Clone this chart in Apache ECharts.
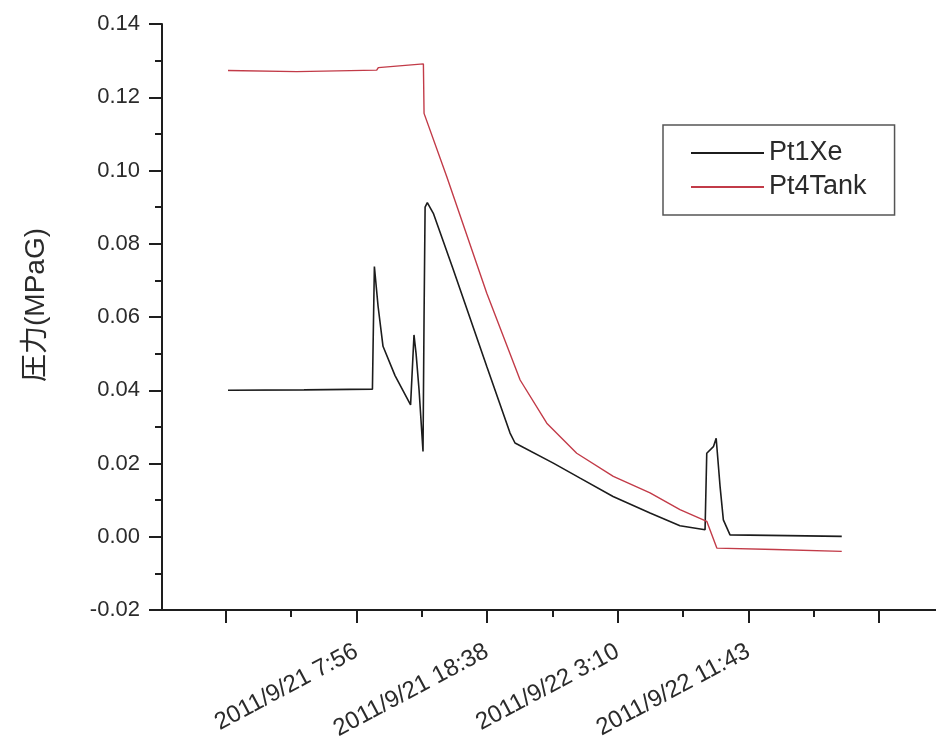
<!DOCTYPE html>
<html>
<head>
<meta charset="utf-8">
<script src="https://cdn.jsdelivr.net/npm/echarts@6/dist/echarts.min.js"></script>
<style>
  html, body { margin: 0; padding: 0; background: #fff; }
  #chart { width: 936px; height: 746px; }
</style>
</head>
<body>
<div id="chart"></div>
<script>
// Sample position (record number) and pressure for each sensor
const pt1XeX = [1.8, 60, 112.3, 112.8, 113.8, 116.6, 120.4, 129.6, 141.5, 144.1, 145.7, 148.0, 151.0, 151.8, 152.6, 154.3, 158.9, 174.2, 199.8, 217.6, 221.4, 250.7, 271.2, 296.4, 324.7, 347.6, 366.8, 368.1, 373.2, 375.3, 378.3, 380.8, 385.9, 430, 471.4];
const pt1XeY = [0.0400, 0.0401, 0.0403, 0.052, 0.0738, 0.063, 0.052, 0.044, 0.0360, 0.0551, 0.050, 0.040, 0.0233, 0.060, 0.090, 0.0912, 0.0883, 0.0729, 0.0465, 0.0283, 0.0256, 0.0201, 0.0160, 0.0110, 0.0065, 0.0030, 0.0019, 0.0228, 0.0246, 0.0269, 0.0137, 0.0046, 0.0005, 0.0003, 0.0001];

const pt4TankX = [1.8, 54.4, 115.6, 116.8, 151.3, 151.8, 169.2, 199.8, 225.3, 245.7, 268.6, 296.6, 324.7, 347.6, 368.1, 375.8, 420, 471.4];
const pt4TankY = [0.1273, 0.1270, 0.1274, 0.1281, 0.1291, 0.1156, 0.0983, 0.0665, 0.0428, 0.0310, 0.0228, 0.0165, 0.0120, 0.0074, 0.0042, -0.0031, -0.0035, -0.0040];

// Time axis: major tick positions, labelled positions and their timestamps
const xMajorTicks = [0, 100, 200, 300, 400, 500];
const xMinorTicks = [50, 150, 250, 350, 450];
const xLabelPos = [100, 200, 300, 400];
const xLabelText = ['2011/9/21 7:56', '2011/9/21 18:38', '2011/9/22 3:10', '2011/9/22 11:43'];

const seriesNames = ['Pt1Xe', 'Pt4Tank'];

const zip = (xs, ys) => xs.map((x, i) => [x, ys[i]]);

const textColor = '#2b2b2b';
const axisColor = '#1e1e1e';
const xMin = -48.7, xMax = 543.5;

const chart = echarts.init(document.getElementById('chart'), null, { renderer: 'canvas' });
chart.setOption({
  backgroundColor: '#ffffff',
  animation: false,
  grid: { left: 162, right: 0, top: 24, bottom: 136, containLabel: false, outerBoundsMode: 'none' },
  legend: {
    data: seriesNames,
    orient: 'vertical',
    left: 663,
    top: 125,
    padding: [14, 28, 14, 27],
    itemGap: 6,
    itemWidth: 73,
    itemHeight: 14,
    borderColor: '#555',
    borderWidth: 1.5,
    itemStyle: { opacity: 0 },
    textStyle: { fontFamily: 'Liberation Sans', fontSize: 27, lineHeight: 28, color: textColor }
  },
  xAxis: [
    {
      type: 'value',
      position: 'bottom',
      min: xMin,
      max: xMax,
      axisLine: { show: true, onZero: false, lineStyle: { color: axisColor, width: 2 } },
      axisTick: { show: true, customValues: xMajorTicks, length: 13, lineStyle: { color: axisColor, width: 2 } },
      axisLabel: {
        customValues: xLabelPos,
        rotate: 28,
        margin: 40,
        fontFamily: 'Liberation Sans',
        fontSize: 24,
        color: textColor,
        formatter: v => {
          const i = xLabelPos.indexOf(v);
          return i >= 0 ? xLabelText[i] : '';
        }
      },
      splitLine: { show: false }
    },
    {
      // minor ticks between the labelled marks
      type: 'value',
      position: 'bottom',
      min: xMin,
      max: xMax,
      axisLine: { show: false, onZero: false },
      axisTick: { show: true, customValues: xMinorTicks, length: 7, lineStyle: { color: axisColor, width: 2 } },
      axisLabel: { show: false },
      splitLine: { show: false }
    }
  ],
  yAxis: {
    type: 'value',
    min: -0.02,
    max: 0.14,
    interval: 0.02,
    name: '圧力(MPaG)',
    nameLocation: 'middle',
    nameGap: 112,
    nameTextStyle: { fontFamily: 'Liberation Sans, Noto Sans CJK JP', fontSize: 28, color: textColor, padding: [0, 0, 0, 24] },
    axisLine: { show: true, onZero: false, lineStyle: { color: axisColor, width: 2 } },
    axisTick: { show: true, length: 13, lineStyle: { color: axisColor, width: 2 } },
    minorTick: { show: true, splitNumber: 2, length: 7, lineStyle: { color: axisColor, width: 2 } },
    axisLabel: {
      margin: 22,
      fontFamily: 'Liberation Sans',
      fontSize: 22,
      color: textColor,
      formatter: v => v.toFixed(2)
    },
    splitLine: { show: false },
    minorSplitLine: { show: false }
  },
  series: [
    {
      name: seriesNames[0],
      type: 'line',
      xAxisIndex: 0,
      data: zip(pt1XeX, pt1XeY),
      symbol: 'none',
      lineStyle: { color: '#1c1c1c', width: 1.6 },
      itemStyle: { color: '#1c1c1c' }
    },
    {
      name: seriesNames[1],
      type: 'line',
      xAxisIndex: 0,
      data: zip(pt4TankX, pt4TankY),
      symbol: 'none',
      lineStyle: { color: '#c23b48', width: 1.4 },
      itemStyle: { color: '#c23b48' }
    }
  ]
});
</script>
</body>
</html>
